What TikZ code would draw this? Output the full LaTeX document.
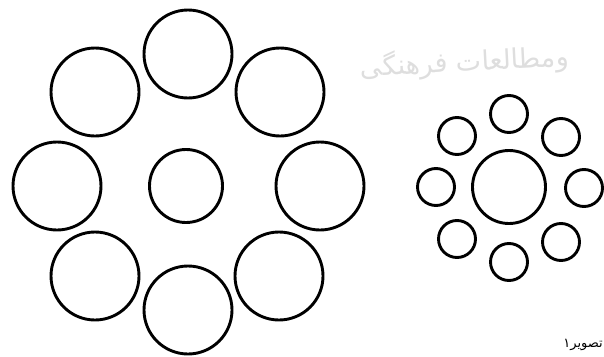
\documentclass[tikz,border=0pt]{standalone}
\usepackage{fontspec}
\TeXXeTstate=1
\newfontfamily\arabicfont[Script=Arabic]{DejaVu Sans}
\begin{document}
\begin{tikzpicture}[x=1pt,y=-1pt,
  ring/.style={circle, draw=black, line width=2.9pt, inner sep=0pt},
  bigc/.style={ring, minimum size=88pt},
  midc/.style={ring, minimum size=73pt},
  smallc/.style={ring, minimum size=37pt},
  wmark/.style={text=black!13, font=\arabicfont\fontsize{27}{27}\selectfont, inner sep=0pt}]
\useasboundingbox (0,0) rectangle (604,356);
% watermark
\node[wmark, anchor=west, rotate=3] (wm) at (360,68) {\beginR ومطالعات فرهنگی\endR};
% left figure
\node[bigc] (a1) at (188,54) {};
\node[bigc] (a2) at (280,92) {};
\node[bigc] (a3) at (320,186) {};
\node[bigc] (a4) at (279,276) {};
\node[bigc] (a5) at (188,310) {};
\node[bigc] (a6) at (95,276) {};
\node[bigc] (a7) at (57,186) {};
\node[bigc] (a8) at (95,92) {};
\node[midc] (ac) at (186,186) {};
% right figure
\node[smallc] (b1) at (509,114) {};
\node[smallc] (b2) at (561,137) {};
\node[smallc] (b3) at (584,188) {};
\node[smallc] (b4) at (561,242) {};
\node[smallc] (b5) at (509,262) {};
\node[smallc] (b6) at (457,239) {};
\node[smallc] (b7) at (436,187) {};
\node[smallc] (b8) at (457,136) {};
\node[midc] (bc) at (509,187) {};
% caption
\node[anchor=base east, inner sep=0pt, font=\arabicfont\fontsize{13}{13}\selectfont] (cap) at (603,347) {\beginR تصویر۱\endR};
\end{tikzpicture}
\end{document}
